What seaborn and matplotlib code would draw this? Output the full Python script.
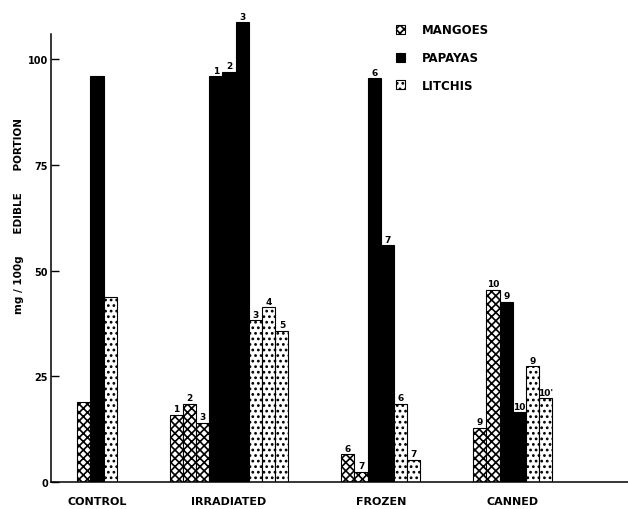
import matplotlib
matplotlib.use("Agg")
import matplotlib.pyplot as plt
from matplotlib.patches import Patch
import pandas as pd
import seaborn as sns

# Treatments and fruits
groups = ["CONTROL", "IRRADIATED", "FROZEN", "CANNED"]
fruits = ["MANGOES", "PAPAYAS", "LITCHIS"]

# mg / 100 g edible portion, one list per treatment
mango_values = [[18.9], [15.9, 18.5, 14.0], [6.6, 2.4], [12.9, 45.5]]
papaya_values = [[96.1], [96.1, 97.1, 108.8], [95.5, 56.1], [42.7, 16.5]]
litchi_values = [[43.7], [38.3, 41.3, 35.8], [18.5, 5.3], [27.4, 19.9]]

# sample numbers written above the bars
mango_samples = [[""], ["1", "2", "3"], ["6", "7"], ["9", "10"]]
papaya_samples = [[""], ["1", "2", "3"], ["6", "7"], ["9", "10"]]
litchi_samples = [[""], ["3", "4", "5"], ["6", "7"], ["9", "10'"]]

y_ticks = [0, 25, 50, 75, 100]
y_tick_labels = ["0", "25", "50", "75", "100"]

series = {
    "MANGOES": (mango_values, mango_samples),
    "PAPAYAS": (papaya_values, papaya_samples),
    "LITCHIS": (litchi_values, litchi_samples),
}

# one slot per bar, empty slots between treatments
GROUP_GAP = 4
rows, centers = [], []
slot = 0
for gi, grp in enumerate(groups):
    start = slot
    for fruit in fruits:
        vals, labs = series[fruit]
        for v, lab in zip(vals[gi], labs[gi]):
            rows.append({"slot": slot, "fruit": fruit, "value": v, "sample": lab})
            slot += 1
    centers.append((start + slot - 1) / 2)
    slot += GROUP_GAP
df = pd.DataFrame(rows)

sns.set_style("ticks")
plt.rcParams["font.family"] = ["DejaVu Sans"]
plt.rcParams["hatch.linewidth"] = 1.2
for key in ("text.color", "axes.labelcolor", "xtick.color", "ytick.color"):
    plt.rcParams[key] = "black"

face = {"MANGOES": "white", "PAPAYAS": "black", "LITCHIS": "white"}
hatch = {"MANGOES": "xxxx", "PAPAYAS": None, "LITCHIS": "..."}

AXIS_TOP = 106
fig = plt.figure(figsize=(6.28, 5.10), dpi=100)
ax = fig.add_axes([0.0807, 0.0529, 0.9193, 0.928])

sns.barplot(data=df, x="slot", y="value", hue="fruit", hue_order=fruits,
            native_scale=True, dodge=False, width=1.0, errorbar=None,
            palette=face, saturation=1, edgecolor="black", linewidth=0.8,
            legend=False, ax=ax)

by_slot = df.set_index("slot")
for container in ax.containers:
    labels = []
    for bar in container:
        s = int(round(bar.get_x() + bar.get_width() / 2))
        fruit = by_slot.loc[s, "fruit"]
        if hatch[fruit]:
            bar.set_hatch(hatch[fruit])
        labels.append(by_slot.loc[s, "sample"])
    ax.bar_label(container, labels=labels, padding=1, fontsize=6.5,
                 fontweight="bold")

ax.set_xlim(-2.515, 41.22)
ax.set_ylim(0, 112)
ax.set_xticks(centers, groups)
ax.set_yticks(y_ticks, y_tick_labels)
ax.set_xlabel("")
ax.tick_params(axis="x", length=0, pad=10, labelsize=8)
ax.tick_params(axis="y", direction="in", length=5.5, width=1, pad=2,
               labelsize=7)
for lab in ax.get_xticklabels() + ax.get_yticklabels():
    lab.set_fontweight("bold")

sns.despine(ax=ax)
for side in ("left", "bottom"):
    ax.spines[side].set_linewidth(1.1)
    ax.spines[side].set_color("black")
ax.spines["left"].set_bounds(0, AXIS_TOP)

ax.set_ylabel("mg / 100g      EDIBLE      PORTION", fontsize=7.5,
              fontweight="bold")
ax.yaxis.set_label_coords(-0.046, 0.565)

handles = [Patch(facecolor=face[f], edgecolor="black", hatch=hatch[f],
                 linewidth=0.8, label=f) for f in fruits]
fig.legend(handles=handles, loc="upper left", bbox_to_anchor=(0.630, 0.952),
           frameon=False, borderpad=0, borderaxespad=0, handlelength=0.8,
           handleheight=0.8, handletextpad=1.4, labelspacing=1.25,
           prop={"size": 8.5, "weight": "bold"})

fig.savefig("out.png", dpi=100)
